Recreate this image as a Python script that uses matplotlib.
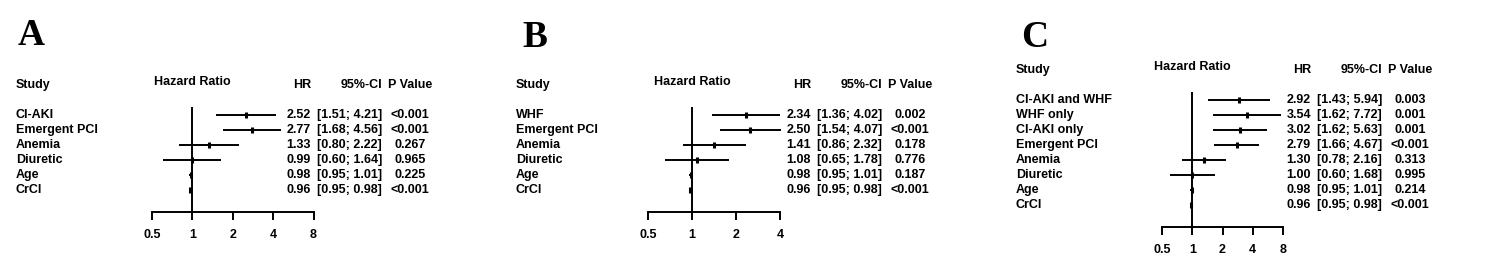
import numpy as np
import matplotlib.pyplot as plt
from matplotlib.transforms import blended_transform_factory

plt.rcParams['font.family'] = ['Liberation Sans', 'DejaVu Sans']

labels_a = ['CI-AKI', 'Emergent PCI', 'Anemia', 'Diuretic', 'Age', 'CrCl']
hr_a = [2.52, 2.77, 1.33, 0.99, 0.98, 0.96]
lo_a = [1.51, 1.68, 0.80, 0.60, 0.95, 0.95]
hi_a = [4.21, 4.56, 2.22, 1.64, 1.01, 0.98]
p_a = ['<0.001', '<0.001', '0.267', '0.965', '0.225', '<0.001']

labels_b = ['WHF', 'Emergent PCI', 'Anemia', 'Diuretic', 'Age', 'CrCl']
hr_b = [2.34, 2.50, 1.41, 1.08, 0.98, 0.96]
lo_b = [1.36, 1.54, 0.86, 0.65, 0.95, 0.95]
hi_b = [4.02, 4.07, 2.32, 1.78, 1.01, 0.98]
p_b = ['0.002', '<0.001', '0.178', '0.776', '0.187', '<0.001']

labels_c = ['CI-AKI and WHF', 'WHF only', 'CI-AKI only', 'Emergent PCI',
            'Anemia', 'Diuretic', 'Age', 'CrCl']
hr_c = [2.92, 3.54, 3.02, 2.79, 1.30, 1.00, 0.98, 0.96]
lo_c = [1.43, 1.62, 1.62, 1.66, 0.78, 0.60, 0.95, 0.95]
hi_c = [5.94, 7.72, 5.63, 4.67, 2.16, 1.68, 1.01, 0.98]
p_c = ['0.003', '0.001', '0.001', '<0.001', '0.313', '0.995', '0.214', '<0.001']

ticks_a = [0.5, 1, 2, 4, 8]
ticks_b = [0.5, 1, 2, 4]
ticks_c = [0.5, 1, 2, 4, 8]

W, H = 1500, 275
fig = plt.figure(figsize=(15, 2.75), dpi=100)
fs = 9


def forest(letter, ox, letter_y, x0, x1, top, row0, axis_y,
           labels, hr, lo, hi, pv, ticks):
    n = len(labels)
    ax = fig.add_axes([(ox + x0) / W, 1 - axis_y / H,
                       (x1 - x0) / W, (axis_y - top) / H])
    ax.set_xscale('log', base=2)
    ax.set_xlim(ticks[0], ticks[-1])
    ax.set_ylim((axis_y - row0) / 15, (top - row0) / 15)
    y = np.arange(n)

    ax.axvline(1, color='black', lw=1.4)
    ax.hlines(y, lo, hi, color='black', lw=1.4, clip_on=False)
    ax.plot(hr, y, ls='none', marker='|', ms=5, mew=2.2, color='black',
            clip_on=False)

    for s in ['top', 'left', 'right']:
        ax.spines[s].set_visible(False)
    ax.spines['bottom'].set_linewidth(1.4)
    ax.set_yticks([])
    ax.set_xticks(ticks)
    ax.set_xticklabels([('%g' % t) for t in ticks], fontweight='bold')
    ax.minorticks_off()
    ax.tick_params(axis='x', direction='out', length=6, width=1.4,
                   labelsize=fs, pad=6)

    tr = blended_transform_factory(fig.transFigure, ax.transData)
    fx = lambda px: (ox + px) / W
    kw = dict(transform=tr, fontsize=fs, fontweight='bold', va='center',
              clip_on=False)
    ax.text(fx(16), -2, 'Study', ha='left', **kw)
    ax.text(fx(192.5), -2.2, 'Hazard Ratio', ha='center', **kw)
    ax.text(fx(311), -2, 'HR', ha='right', **kw)
    ax.text(fx(382), -2, '95%-CI', ha='right', **kw)
    ax.text(fx(410), -2, 'P Value', ha='center', **kw)
    for i in range(n):
        ax.text(fx(16), i, labels[i], ha='left', **kw)
        ax.text(fx(311), i, '%.2f' % hr[i], ha='right', **kw)
        ax.text(fx(382), i, '[%.2f; %.2f]' % (lo[i], hi[i]), ha='right', **kw)
        ax.text(fx(410), i, pv[i], ha='center', **kw)

    fig.text(fx(letter_y[0]), 1 - letter_y[1] / H, letter,
             family='Liberation Serif', fontweight='bold', fontsize=27,
             ha='left', va='baseline')


forest('A', 0, (18, 45), 152, 313.5, 107, 115, 212,
       labels_a, hr_a, lo_a, hi_a, p_a, ticks_a)
forest('B', 500, (22, 47), 148.3, 280, 107, 115, 212,
       labels_b, hr_b, lo_b, hi_b, p_b, ticks_b)
forest('C', 1000, (21, 47), 162.3, 282.7, 92, 100, 227,
       labels_c, hr_c, lo_c, hi_c, p_c, ticks_c)

plt.savefig('out.png', dpi=100, facecolor='white')
